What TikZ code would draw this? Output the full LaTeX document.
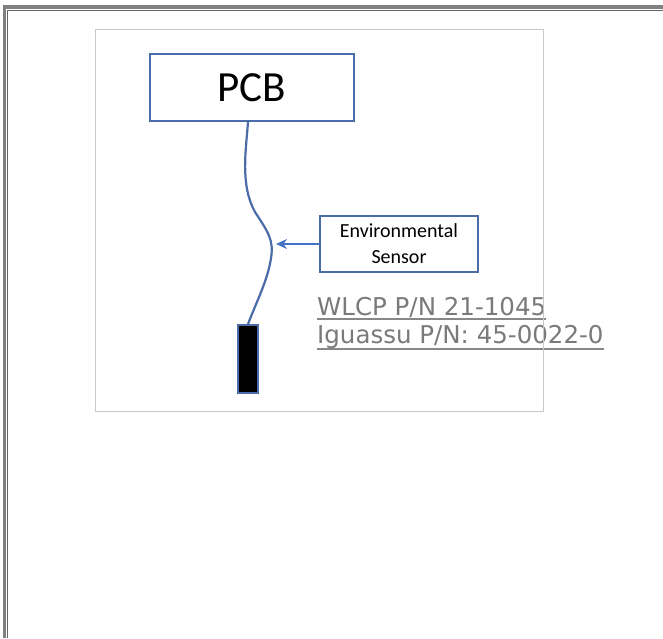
\documentclass[tikz,border=0pt]{standalone}
\usepackage{fontspec}
\setmainfont{Carlito}
\newfontfamily\pnfont{DejaVu Sans}
\usetikzlibrary{arrows.meta}
\definecolor{boxblue}{HTML}{4A6CA8}
\definecolor{arrowblue}{HTML}{4472C4}
\definecolor{pngray}{HTML}{7A7A7A}
\definecolor{framegray}{HTML}{C8C8C8}
\definecolor{wingray}{HTML}{808080}
\tikzset{
  bluebox/.style={draw=boxblue, line width=2.2pt, fill=white, inner sep=0pt},
  pntext/.style={anchor=base west, inner sep=0pt, text=pngray, font=\pnfont\fontsize{24.5}{28}\selectfont},
  uline/.style={draw=pngray!90, line width=1.5pt},
}
\begin{document}
\begin{tikzpicture}[x=1pt,y=-1pt]
\useasboundingbox (0,0) rectangle (663,638);
\fill[white] (0,0) rectangle (663,638);
% window border
\draw[wingray, line width=3.5pt] (4.5,7) -- (663,7);
\draw[wingray, line width=3.5pt] (4.5,5.25) -- (4.5,638);
\draw[black!60, line width=1pt] (7.5,10) -- (663,10);
\draw[black!60, line width=1pt] (7.5,10) -- (7.5,638);
% part number texts
\node[pntext] (wlcp) at (317,315) {WLCP P/N 21-1045};
\node[pntext] (igu) at (317,343) {Iguassu P/N: 45-0022-0};
\draw[uline] ([yshift=-4pt]wlcp.base west) -- ([yshift=-4pt]wlcp.base east);
\draw[uline] ([yshift=-6pt]igu.base west) -- ([yshift=-6pt]igu.base east);
% inner frame
\draw[framegray, line width=1pt] (95,29) rectangle (543,411);
% nodes
\node[bluebox, minimum width=204pt, minimum height=67pt, font=\fontsize{43}{50}\selectfont] (pcb) at (252,87.5) {PCB};
\node[bluebox, minimum width=158pt, minimum height=56pt, align=center, font=\fontsize{20}{26}\selectfont] (sensor) at (399,244) {Environmental\\Sensor};
\node[draw=boxblue, line width=1.5pt, fill=black, minimum width=20pt, minimum height=68pt, inner sep=0pt] (probe) at (248,359) {};
\coordinate (tip) at (276,244);
% cable
\draw[boxblue, line width=2.2pt] (pcb.south -| 248,0) .. controls (246,150) and (240,185) .. (255,212)
  .. controls (268,232) and (274,240) .. (271,258)
  .. controls (268,280) and (255,305) .. (probe.north);
% arrow
\draw[arrowblue, line width=1.5pt, -{Stealth[length=11pt, width=10pt]}] (sensor.west) -- (tip);
\end{tikzpicture}
\end{document}
